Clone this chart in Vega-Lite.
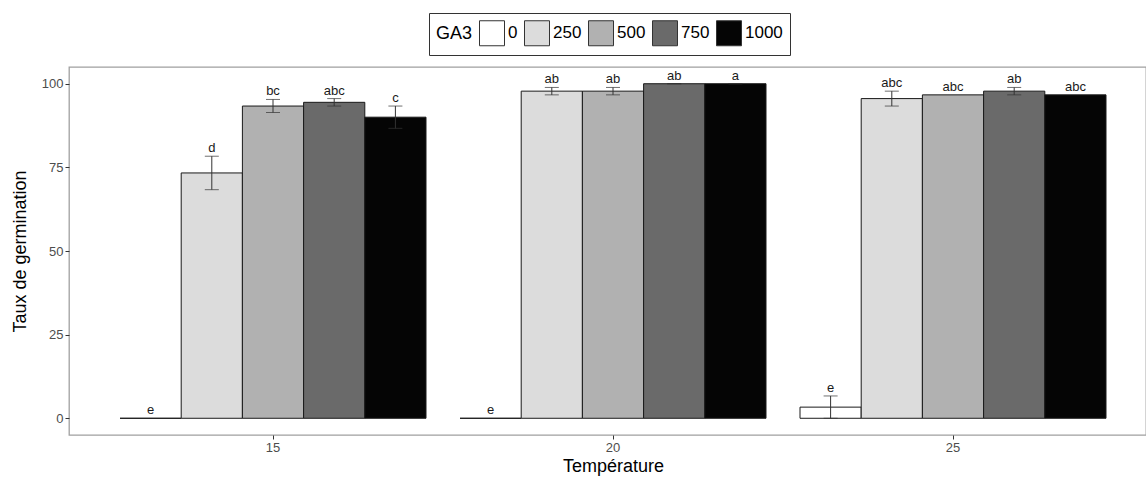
{
  "$schema": "https://vega.github.io/schema/vega-lite/v6.json",
  "width": 1077,
  "height": 368,
  "autosize": {"type": "none"},
  "padding": {"left": 69, "top": 67, "right": 0, "bottom": 43},
  "config": {
    "font": "Liberation Sans",
    "view": {"stroke": "#a0a0a0", "strokeWidth": 1.3},
    "axis": {
      "domain": false,
      "grid": false,
      "tickColor": "#333333",
      "tickSize": 4,
      "labelColor": "#4d4d4d",
      "labelFontSize": 13,
      "labelPadding": 2,
      "titleFontSize": 18,
      "titleFontWeight": "normal",
      "titleColor": "#000000"
    },
    "legend": {
      "direction": "horizontal",
      "titleOrient": "left",
      "symbolType": "square",
      "symbolSize": 625,
      "symbolStrokeColor": "#333333",
      "symbolStrokeWidth": 1,
      "labelFontSize": 17,
      "labelColor": "#000000",
      "titleFontSize": 18,
      "titleFontWeight": "normal",
      "titleColor": "#000000",
      "strokeColor": "#333333",
      "fillColor": "#ffffff",
      "padding": 7,
      "labelOffset": 3,
      "columnPadding": 4,
      "titlePadding": 6
    }
  },
  "data": {
    "values": [
      {"T": "15", "GA3": "0", "mean": 0, "lo": null, "hi": null, "top": 0, "label": "e"},
      {"T": "15", "GA3": "250", "mean": 73.33, "lo": 68.33, "hi": 78.33, "top": 78.33, "label": "d"},
      {"T": "15", "GA3": "500", "mean": 93.33, "lo": 91.4, "hi": 95.3, "top": 95.3, "label": "bc"},
      {"T": "15", "GA3": "750", "mean": 94.44, "lo": 93.33, "hi": 95.56, "top": 95.56, "label": "abc"},
      {"T": "15", "GA3": "1000", "mean": 90, "lo": 86.67, "hi": 93.33, "top": 93.33, "label": "c"},
      {"T": "20", "GA3": "0", "mean": 0, "lo": null, "hi": null, "top": 0, "label": "e"},
      {"T": "20", "GA3": "250", "mean": 97.78, "lo": 96.67, "hi": 98.89, "top": 98.89, "label": "ab"},
      {"T": "20", "GA3": "500", "mean": 97.78, "lo": 96.67, "hi": 98.89, "top": 98.89, "label": "ab"},
      {"T": "20", "GA3": "750", "mean": 100, "lo": 100, "hi": 100, "top": 100, "label": "ab"},
      {"T": "20", "GA3": "1000", "mean": 100, "lo": 100, "hi": 100, "top": 100, "label": "a"},
      {"T": "25", "GA3": "0", "mean": 3.33, "lo": 0, "hi": 6.67, "top": 6.67, "label": "e"},
      {"T": "25", "GA3": "250", "mean": 95.56, "lo": 93.33, "hi": 97.78, "top": 97.78, "label": "abc"},
      {"T": "25", "GA3": "500", "mean": 96.67, "lo": null, "hi": null, "top": 96.67, "label": "abc"},
      {"T": "25", "GA3": "750", "mean": 97.78, "lo": 96.67, "hi": 98.89, "top": 98.89, "label": "ab"},
      {"T": "25", "GA3": "1000", "mean": 96.67, "lo": null, "hi": null, "top": 96.67, "label": "abc"}
    ]
  },
  "encoding": {
    "x": {
      "field": "T",
      "type": "nominal",
      "title": "Température",
      "scale": {"range": [0, 1088], "paddingInner": 0.1, "paddingOuter": 0.15},
      "axis": {"labelAngle": 0, "titlePadding": 3}
    },
    "xOffset": {
      "field": "GA3",
      "type": "nominal",
      "sort": ["0", "250", "500", "750", "1000"],
      "scale": {"paddingInner": 0, "paddingOuter": 0}
    }
  },
  "layer": [
    {
      "mark": {"type": "bar", "stroke": "#1a1a1a", "strokeWidth": 1, "opacity": 1},
      "encoding": {
        "y": {
          "field": "mean",
          "type": "quantitative",
          "scale": {"domain": [-5, 105], "nice": false, "zero": false},
          "axis": {"values": [0, 25, 50, 75, 100], "title": "Taux de germination", "titlePadding": 12}
        },
        "y2": {"datum": 0},
        "fill": {
          "field": "GA3",
          "type": "nominal",
          "sort": ["0", "250", "500", "750", "1000"],
          "scale": {
            "domain": ["0", "250", "500", "750", "1000"],
            "range": ["#ffffff", "#dcdcdc", "#b1b1b1", "#6a6a6a", "#050505"]
          },
          "legend": {"title": "GA3", "orient": "none", "legendX": 360, "legendY": -54}
        }
      }
    },
    {
      "transform": [{"filter": "datum.hi != null"}],
      "mark": {"type": "rule", "color": "#333333", "strokeWidth": 1},
      "encoding": {
        "y": {"field": "lo", "type": "quantitative", "scale": {"domain": [-5, 105], "nice": false, "zero": false}},
        "y2": {"field": "hi"}
      }
    },
    {
      "transform": [{"filter": "datum.hi != null"}],
      "mark": {"type": "tick", "color": "#333333", "thickness": 1, "size": 14},
      "encoding": {
        "y": {"field": "hi", "type": "quantitative", "scale": {"domain": [-5, 105], "nice": false, "zero": false}}
      }
    },
    {
      "transform": [{"filter": "datum.lo != null"}],
      "mark": {"type": "tick", "color": "#333333", "thickness": 1, "size": 14},
      "encoding": {
        "y": {"field": "lo", "type": "quantitative", "scale": {"domain": [-5, 105], "nice": false, "zero": false}}
      }
    },
    {
      "mark": {"type": "text", "baseline": "alphabetic", "dy": -4, "fontSize": 13, "color": "#1a1a1a"},
      "encoding": {
        "y": {"field": "top", "type": "quantitative", "scale": {"domain": [-5, 105], "nice": false, "zero": false}},
        "text": {"field": "label", "type": "nominal"}
      }
    }
  ]
}
